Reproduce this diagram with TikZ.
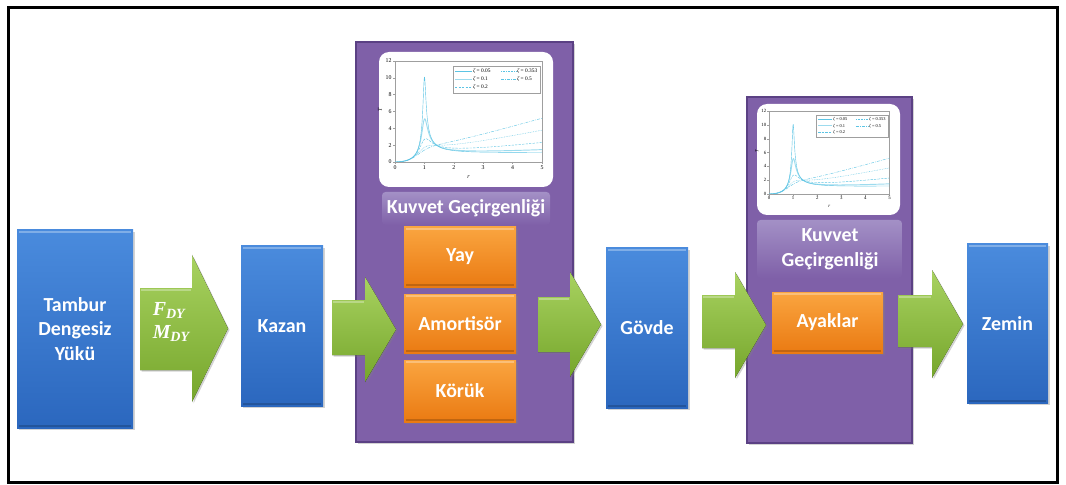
\documentclass[tikz,border=0pt]{standalone}
\usepackage{fontspec}
\setmainfont{Carlito}
\newfontfamily\serifbi{Liberation Serif}
\newfontfamily\plotfont{Liberation Serif}
\usetikzlibrary{fit,shadows}

\definecolor{blueT}{HTML}{4A8BDD}
\definecolor{blueB}{HTML}{2B67BE}
\definecolor{greenT}{HTML}{A8D260}
\definecolor{greenB}{HTML}{76A62C}
\definecolor{orangeT}{HTML}{FAA540}
\definecolor{orangeB}{HTML}{EA7A12}
\definecolor{purpleF}{HTML}{7F60A8}
\definecolor{purpleD}{HTML}{5B4184}
\definecolor{purpleL}{HTML}{A390C6}
\definecolor{curvec}{HTML}{5CC4E4}

% transmissibility of a rotating-unbalance force
\tikzset{declare function={tr(\r,\z)=\r*\r*sqrt(1+4*\z*\z*\r*\r)/sqrt((1-\r*\r)*(1-\r*\r)+4*\z*\z*\r*\r);}}

% one curve of the plot, sampled densely around resonance
\newcommand\tcurve[2]{%
  \draw[curvec, line width=0.35pt, #2]
    plot[domain=0:0.9, samples=40] (\x*29.4, {-8.4167*tr(\x,#1)})
    -- plot[domain=0.9:1.1, samples=81] (\x*29.4, {-8.4167*tr(\x,#1)})
    -- plot[domain=1.1:5, samples=80] (\x*29.4, {-8.4167*tr(\x,#1)});}

% the small chart, drawn with its axis origin at (0,0)
\newcommand\tplot{%
  \draw[gray!75, line width=0.3pt] (0,0) rectangle (147,-101);
  \foreach \k [evaluate=\k as \v using int(2*\k)] in {0,...,6}{
    \draw[gray!75, line width=0.3pt] (0,-\k*16.833) -- (-2,-\k*16.833);
    \node[tick, anchor=east] at (-2,-\k*16.833) {\v};}
  \foreach \k in {0,...,5}{
    \draw[gray!75, line width=0.3pt] (\k*29.4,0) -- (\k*29.4,2);
    \node[tick, anchor=north] at (\k*29.4,2) {\k};}
  \node[tick] at (73.5,15) {\itshape r};
  \node[tick, rotate=90] at (-15,-52) {\itshape T};
  \begin{scope}
    \clip (0,0) rectangle (147,-101);
    \tcurve{0.05}{}
    \tcurve{0.1}{line width=0.8pt, opacity=0.6}
    \tcurve{0.2}{dashed, dash pattern=on 2pt off 1pt}
    \tcurve{0.353}{dash pattern=on 0.6pt off 0.8pt}
    \tcurve{0.5}{dash pattern=on 2.5pt off 1pt on 0.6pt off 1pt}
  \end{scope}
  \draw[gray!75, line width=0.3pt, fill=white] (58,-96) rectangle (145,-69);
  \draw[curvec, line width=0.35pt] (60,-91) -- (77,-91);
  \node[leg] at (77,-91) {{\itshape ζ} = 0.05};
  \draw[curvec, line width=0.8pt, opacity=0.6] (60,-83) -- (77,-83);
  \node[leg] at (77,-83) {{\itshape ζ} = 0.1};
  \draw[curvec, line width=0.35pt, dash pattern=on 2pt off 1pt] (60,-75) -- (77,-75);
  \node[leg] at (77,-75) {{\itshape ζ} = 0.2};
  \draw[curvec, line width=0.35pt, dash pattern=on 0.6pt off 0.8pt] (106,-91) -- (121,-91);
  \node[leg] at (121,-91) {{\itshape ζ} = 0.353};
  \draw[curvec, line width=0.35pt, dash pattern=on 2.5pt off 1pt on 0.6pt off 1pt] (106,-83) -- (121,-83);
  \node[leg] at (121,-83) {{\itshape ζ} = 0.5};
}

% green block arrow: name, x-left, x-head, x-tip, y-head-top, y-body-top, y-body-bottom, y-head-bottom
\newcommand\blockarrow[8]{%
  \fill[arrowfill] (#2,#6) -- (#3,#6) -- (#3,#5) -- (#4,{(#5+#8)/2}) -- (#3,#8)
    -- (#3,#7) -- (#2,#7) -- cycle;
  \draw[white, opacity=0.3, line width=1.2pt] (#2+1,#6+2) -- (#3-1,#6+2);
  \coordinate (#1) at ({(#2+#3)/2},{(#6+#7)/2});}

% light top rim and dark bottom rim of a bevelled block
\newcommand\bevel[1]{%
  \draw[white, opacity=0.3, line width=1.3pt] ([shift={(2,2)}]#1.north west) -- ([shift={(-2,2)}]#1.north east);
  \draw[black, opacity=0.18, line width=1.3pt] ([shift={(2,-2)}]#1.south west) -- ([shift={(-2,-2)}]#1.south east);}

\begin{document}
\begin{tikzpicture}[x=0.03cm, y=-0.03cm,
  lbl/.style={font=\fontsize{17}{21}\selectfont\bfseries, text=white, align=center},
  shade/.style={drop shadow={opacity=0.35, shadow xshift=1.3pt, shadow yshift=-1.3pt}},
  bluebox/.style={lbl, inner sep=0pt, top color=blueT, bottom color=blueB, shade},
  orangebox/.style={lbl, inner sep=0pt, top color=orangeT, bottom color=orangeB, shade},
  panel/.style={inner sep=0pt, fill=purpleF, draw=purpleD, line width=1.2pt, shade},
  plotpanel/.style={inner sep=0pt, fill=white, rounded corners=0.3cm},
  band/.style={inner sep=0pt, rounded corners=3pt, top color=purpleL, bottom color=purpleF},
  arrowfill/.style={top color=greenT, bottom color=greenB, shade},
  tick/.style={font=\plotfont\fontsize{5}{6}\selectfont, inner sep=1pt},
  leg/.style={font=\plotfont\fontsize{4.6}{5}\selectfont, inner sep=0.8pt, anchor=west}]

\useasboundingbox (0,0) rectangle (1066,485);
\draw[line width=0.1cm] (8.5,7.5) rectangle (1057.5,482.5);

% purple transmissibility panels
\node[panel, fit={(356,42) (573,442)}] (panelA) {};
\node[panel, fit={(747,97) (912,443)}] (panelB) {};

% chart panels
\node[plotpanel, fit={(379,52) (553,187)}] (plotA) {};
\begin{scope}[shift={(395,162)}]
  \tplot
\end{scope}
\node[plotpanel, fit={(757,104) (900,215)}] (plotB) {};
\begin{scope}[shift={(769,194)}, scale=0.82, transform shape]
  \tplot
\end{scope}

% panel titles
\node[band, fit={(382,192) (550,225)}] (bandA) {};
\node[lbl] (titleA) at (bandA.center) {Kuvvet Geçirgenliği};
\node[band, fit={(757,220) (902,278)}] (bandB) {};
\node[lbl] (titleB) at (830,249) {Kuvvet\\Geçirgenliği};

% blue blocks
\node[bluebox, fit={(17,230) (133,428)}] (tambur) {};
\node[lbl] at (tambur.center) {Tambur\\Dengesiz\\Yükü};
\node[bluebox, fit={(241,246) (323,406)}] (kazan) {};
\node[lbl] at (kazan.center) {Kazan};
\node[bluebox, fit={(606,248) (688,408)}] (govde) {};
\node[lbl] at (govde.center) {Gövde};
\node[bluebox, fit={(967,244) (1048,403)}] (zemin) {};
\node[lbl] at (zemin.center) {Zemin};
\bevel{tambur}\bevel{kazan}\bevel{govde}\bevel{zemin}

% orange elements
\node[orangebox, fit={(404,227) (516,287)}] (yay) {};
\node[lbl] at (yay.center) {Yay};
\node[orangebox, fit={(404,294) (516,353)}] (amort) {};
\node[lbl] at (amort.center) {Amortisör};
\node[orangebox, fit={(404,360) (516,422)}] (koruk) {};
\node[lbl] at (koruk.center) {Körük};
\node[orangebox, fit={(772,292) (883,353)}] (ayak) {};
\node[lbl] at (ayak.center) {Ayaklar};
\bevel{yay}\bevel{amort}\bevel{koruk}\bevel{ayak}

% green flow arrows
\blockarrow{arrA}{140}{192}{228}{255}{288}{370}{402}
\blockarrow{arrB}{332}{365}{396}{277}{300}{355}{382}
\blockarrow{arrC}{538}{570}{601}{272}{297}{352}{377}
\blockarrow{arrD}{702}{735}{766}{272}{295}{348}{378}
\blockarrow{arrE}{898}{932}{963}{270}{295}{347}{378}

\node[text=white, align=left, inner sep=0pt, font=\serifbi\bfseries\itshape\fontsize{17}{19}\selectfont]
  (loads) at (171,322)
  {F\raisebox{-0.35ex}{\fontsize{12}{12}\selectfont DY}\\M\raisebox{-0.35ex}{\fontsize{12}{12}\selectfont DY}};
\end{tikzpicture}
\end{document}
